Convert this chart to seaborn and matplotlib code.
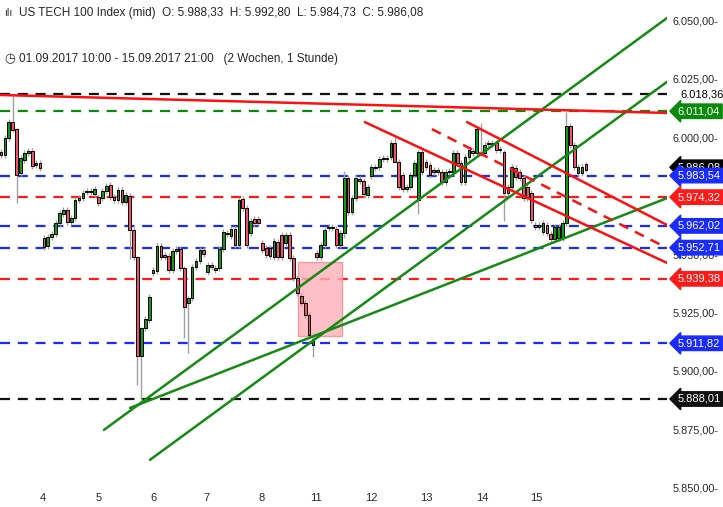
import numpy as np
import pandas as pd
import matplotlib
matplotlib.use("Agg")
import matplotlib.pyplot as plt
import matplotlib.transforms as mtrans
from matplotlib.patches import Rectangle
import seaborn as sns

# ---- data (hourly candles) ----
opens = [5993.6,5992.3,5999.6,6006.4,6003.4,5984.6,5990.2,5993.2,5994.0,5988.0,5988.9,
         5956.8,5953.4,5957.3,5958.5,5963.2,5967.1,5968.8,5963.7,5965.4,5973.9,5973.9,5976.5,5976.9,5975.6,5974.4,5973.9,5976.9,5979.5,5974.4,5973.1,5977.3,5972.2,5974.8,5960.3,5948.7,
         5906.4,5918.4,5921.8,5943.2,5942.7,5953.4,5949.6,5949.1,5943.2,5951.3,5952.1,5944.0,5929.1,5931.2,5944.4,5947.0,5951.7,5942.3,5945.3,5943.2,5944.0,5952.1,5958.5,5957.7,5960.7,5953.8,5973.5,5969.7,
         5959.0,5965.0,5965.0,5954.7,5952.6,5952.6,5948.7,5955.1,5958.1,5954.7,5958.1,5948.3,5939.7,5932.0,5929.1,5923.9,5911.1,5950.4,5948.7,5953.8,5961.1,5961.5,5960.7,5953.8,5959.0,5982.5,5967.9,5973.9,5982.0,5981.2,5975.2,5983.3,5987.2,5987.2,5990.6,5991.0,
         5991.5,5997.4,5989.3,5983.8,5977.8,5978.6,5983.8,5973.1,5993.6,5989.3,5988.0,5985.9,5985.0,5985.0,5980.8,5985.0,5985.0,5993.2,5988.9,5980.8,5991.5,5994.0,5993.2,5992.8,5993.2,5997.0,5997.4,5997.4,5994.4,
         5993.6,5978.6,5978.6,5986.8,5985.0,5982.5,5978.6,5976.1,5962.4,5961.5,5959.4,5962.4,5958.5,5956.4,5956.8,5956.8,5963.2,6004.7,5996.6,5984.6,5984.6,5988.3]
closes = [5992.3,5999.6,6006.4,6003.0,5983.8,5991.0,5993.2,5994.0,5987.6,5988.9,5986.8,
          5953.0,5957.3,5958.5,5963.2,5967.5,5968.8,5963.7,5965.4,5973.1,5973.1,5976.1,5976.9,5976.5,5977.8,5971.8,5976.9,5979.1,5974.4,5973.1,5977.3,5972.2,5975.2,5960.3,5948.7,5906.4,
          5918.4,5922.2,5931.6,5941.9,5953.4,5948.7,5948.7,5943.2,5951.3,5952.1,5944.0,5927.3,5931.2,5944.4,5947.0,5951.7,5950.0,5945.3,5944.4,5944.0,5952.1,5959.4,5959.0,5960.7,5953.8,5973.1,5969.7,5953.8,
          5964.1,5963.2,5963.2,5951.7,5949.6,5949.1,5955.6,5948.7,5948.7,5958.1,5948.3,5939.7,5933.3,5929.1,5923.9,5915.4,5913.5,5948.7,5953.8,5960.3,5961.5,5961.1,5953.8,5959.0,5982.5,5967.9,5973.9,5982.5,5981.2,5975.6,5978.6,5987.2,5986.8,5990.6,5991.0,5990.6,
          5997.4,5989.3,5978.6,5977.8,5978.6,5983.8,5988.9,5993.6,5985.0,5987.2,5983.8,5985.0,5985.9,5980.8,5985.0,5985.5,5993.2,5988.9,5980.8,5991.5,5994.4,5993.2,6003.4,5993.2,5996.6,5997.4,5997.0,5994.4,5994.9,
          5976.1,5976.1,5987.2,5982.9,5982.5,5973.9,5973.9,5964.5,5961.5,5962.4,5963.2,5959.0,5956.4,5961.5,5961.5,5963.2,6004.7,5996.6,5987.2,5987.2,5987.2,5986.1]
# notable wicks: candle index -> (high, low)
wick_idx  = [3, 4, 33, 35, 36, 47, 48, 79, 80, 88, 107, 129, 145, 101, 123]
wick_high = [6018.0, 6004.0, 5976.0, 5949.0, 5919.0, 5945.0, 5932.0, 5925.0, 5916.0, 5985.5, 5994.5, 5994.5, 6010.7, 6000.0, 6006.0]
wick_low  = [6002.0, 5972.0, 5948.0, 5894.0, 5887.6, 5914.0, 5907.7, 5922.0, 5906.0, 5957.0, 5967.0, 5964.0, 5962.0, 5990.0, 5992.0]

day_labels = ["4", "5", "6", "7", "8", "11", "12", "13", "14", "15"]
day_pos = [10.8, 25.1, 39.0, 52.8, 66.9, 80.8, 95.1, 109.2, 123.3, 137.4]

level_vals   = [6018.36, 6011.04, 5983.54, 5974.32, 5962.02, 5952.71, 5939.38, 5911.82, 5888.01]
level_colors = ["#111111", "#0a8a0a", "#1a2bff", "#ff1a1a", "#1a2bff", "#1a2bff", "#ff1a1a", "#1a2bff", "#111111"]
current_price = 5986.08

# trend lines: (x0, y0, x1, y1) in candle index / price
green_lines = [(26.4, 5874.8, 170.8, 6050.9), (38.2, 5862.0, 170.8, 6023.6), (33.1, 5884.2, 170.8, 5973.9)]
red_lines = [(-0.3, 6018.0, 170.8, 6010.3), (93.3, 6006.4, 170.8, 5946.2), (119.5, 6006.4, 170.8, 5962.4)]
red_dashed = [(110.5, 6003.4, 170.8, 5952.6)]
zone = (76.2, 5914.9, 87.4, 5946.5)

yticks = [5850, 5875, 5900, 5925, 5950, 5975, 6000, 6025, 6050]

# ---- build frame ----
df = pd.DataFrame({"o": opens, "c": closes})
df["i"] = np.arange(len(df))
df["h"] = df[["o", "c"]].max(axis=1) + 1.2
df["l"] = df[["o", "c"]].min(axis=1) - 1.2
for k, hi, lo in zip(wick_idx, wick_high, wick_low):
    df.loc[k, "h"] = hi
    df.loc[k, "l"] = lo

sns.set_theme(style="white")
plt.rcParams["font.family"] = ["Liberation Sans", "DejaVu Sans"]

fig = plt.figure(figsize=(7.23, 5.07), dpi=100)
ax = fig.add_axes([0, 17 / 507, 667 / 723, 490 / 507])
ax.set_xlim(-0.26, 170.8)
ax.set_ylim(5849.1, 6058.6)
for s in ax.spines.values():
    s.set_visible(False)

# levels
for v, col in zip(level_vals, level_colors):
    ax.axhline(v, color=col, lw=1.6, ls=(0, (4.5, 3.5)), zorder=1)

# zone
ax.add_patch(Rectangle((zone[0], zone[1]), zone[2] - zone[0], zone[3] - zone[1],
                       facecolor="#ffb0b8", edgecolor="#f08890", alpha=0.8, zorder=1.5))

# candles
ax.vlines(df["i"], df["l"], df["h"], color="#a0a0a0", lw=1, zorder=2)
up = df["c"] >= df["o"]
body_lo = df[["o", "c"]].min(axis=1)
body_h = (df["c"] - df["o"]).abs().clip(lower=0.5)
ax.bar(df["i"][up], body_h[up], bottom=body_lo[up], width=0.7, color="#139a13",
       edgecolor="black", lw=0.7, zorder=3)
ax.bar(df["i"][~up], body_h[~up], bottom=body_lo[~up], width=0.7, color="#f0506a",
       edgecolor="black", lw=0.7, zorder=3)

# trend lines
for x0, y0, x1, y1 in green_lines:
    sns.lineplot(x=[x0, x1], y=[y0, y1], color="#158a15", lw=1.8, ax=ax, zorder=4)
for x0, y0, x1, y1 in red_lines:
    sns.lineplot(x=[x0, x1], y=[y0, y1], color="#ff1010", lw=1.8, ax=ax, zorder=4)
for x0, y0, x1, y1 in red_dashed:
    ax.plot([x0, x1], [y0, y1], color="#ff1010", lw=1.8, ls=(0, (4, 3)), zorder=4)

def de(v):
    s = f"{v:,.2f}"
    return s.replace(",", "X").replace(".", ",").replace("X", ".")

# y tick labels on right
ax.yaxis.tick_right()
ax.set_yticks(yticks)
ax.set_yticklabels([de(v) + "-" for v in yticks], fontsize=7.8)
ax.tick_params(axis="y", length=0, pad=4)
ax.set_xticks(day_pos)
ax.set_xticklabels(day_labels, fontsize=8)
ax.tick_params(axis="x", length=0, pad=2)

tr = mtrans.blended_transform_factory(ax.transAxes, ax.transData)
ax.text(1.016, current_price + 1.0, de(current_price), transform=tr, fontsize=8, color="white",
        va="center", ha="left", clip_on=False, zorder=5,
        bbox=dict(boxstyle="larrow,pad=0.2", fc="black", ec="black"))
for v, col in zip(level_vals, level_colors):
    if v == level_vals[0]:
        ax.text(1.02, v, de(v), transform=tr, fontsize=8, color="black", va="center",
                ha="left", clip_on=False, zorder=6, bbox=dict(boxstyle="square,pad=0.1", fc="white", ec="white"))
    else:
        ax.text(1.016, v, de(v), transform=tr, fontsize=8, color="white", va="center",
                ha="left", clip_on=False, zorder=6,
                bbox=dict(boxstyle="larrow,pad=0.2", fc=col, ec=col))

fig.text(4 / 723, 1 - 13 / 507, "ılı", fontsize=7, va="center", family=["DejaVu Sans"])
fig.text(19 / 723, 1 - 13 / 507,
         "US TECH 100 Index (mid)  O: 5.988,33  H: 5.992,80  L: 5.984,73  C: 5.986,08",
         fontsize=8.5, va="center")
fig.text(4 / 723, 1 - 59 / 507, "\u25F7", fontsize=9, va="center", family=["DejaVu Sans"])
fig.text(19 / 723, 1 - 59 / 507, "01.09.2017 10:00 - 15.09.2017 21:00   (2 Wochen, 1 Stunde)",
         fontsize=8.5, va="center")

fig.savefig("out.png", dpi=100)
